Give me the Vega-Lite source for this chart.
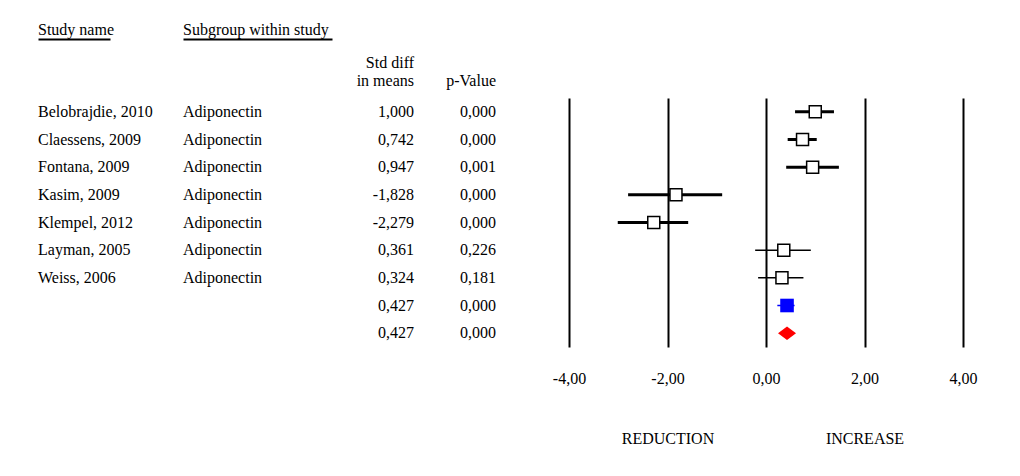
{
  "$schema": "https://vega.github.io/schema/vega-lite/v6.json",
  "padding": {"left": 37, "top": 21, "right": 5, "bottom": 5},
  "bounds": "flush",
  "spacing": 73,
  "config": {
    "view": {"stroke": null},
    "locale": {"number": {"decimal": ",", "thousands": ".", "grouping": [3], "currency": ["", ""], "minus": "-"}},
    "font": "Liberation Serif",
    "axis": {"labelFont": "Liberation Serif", "labelFontSize": 16, "labelColor": "black", "titleFont": "Liberation Serif"},
    "text": {"font": "Liberation Serif", "fontSize": 16, "color": "black"}
  },
  "data": {
    "values": [
      {"row": 1, "study": "Belobrajdie, 2010", "subgroup": "Adiponectin", "smd": 1.000, "p": 0.000, "lo": 0.59, "hi": 1.38, "kind": "study"},
      {"row": 2, "study": "Claessens, 2009", "subgroup": "Adiponectin", "smd": 0.742, "p": 0.000, "lo": 0.44, "hi": 1.03, "kind": "study"},
      {"row": 3, "study": "Fontana, 2009", "subgroup": "Adiponectin", "smd": 0.947, "p": 0.001, "lo": 0.41, "hi": 1.48, "kind": "study"},
      {"row": 4, "study": "Kasim, 2009", "subgroup": "Adiponectin", "smd": -1.828, "p": 0.000, "lo": -2.80, "hi": -0.89, "kind": "study"},
      {"row": 5, "study": "Klempel, 2012", "subgroup": "Adiponectin", "smd": -2.279, "p": 0.000, "lo": -3.01, "hi": -1.58, "kind": "study"},
      {"row": 6, "study": "Layman, 2005", "subgroup": "Adiponectin", "smd": 0.361, "p": 0.226, "lo": -0.22, "hi": 0.91, "kind": "study"},
      {"row": 7, "study": "Weiss, 2006", "subgroup": "Adiponectin", "smd": 0.324, "p": 0.181, "lo": -0.16, "hi": 0.76, "kind": "study"},
      {"row": 8, "study": "", "subgroup": "", "smd": 0.427, "p": 0.000, "lo": 0.23, "hi": 0.58, "kind": "fixed"},
      {"row": 9, "study": "", "subgroup": "", "smd": 0.427, "p": 0.000, "lo": 0.25, "hi": 0.62, "kind": "random"}
    ]
  },
  "hconcat": [
    {
      "width": 72, "height": 249,
      "mark": {"type": "text", "align": "left", "baseline": "middle"},
      "encoding": {
        "x": {"datum": "Study name", "type": "nominal", "bandPosition": 0,
              "scale": {"type": "band", "paddingInner": 0, "paddingOuter": 0},
              "axis": {"orient": "top", "title": null, "ticks": false, "domain": true, "domainColor": "black", "domainWidth": 2, "offset": 59, "labelPadding": 5, "labelBaseline": "alphabetic", "labelAlign": "left", "labelAngle": 0, "labelOffset": -36, "labelLimit": 0}},
        "y": {"field": "row", "type": "ordinal", "axis": null, "scale": {"type": "point", "padding": 0.5}},
        "text": {"field": "study"}
      }
    },
    {
      "width": 149, "height": 249,
      "mark": {"type": "text", "align": "left", "baseline": "middle"},
      "encoding": {
        "x": {"datum": "Subgroup within study", "type": "nominal", "bandPosition": 0,
              "scale": {"type": "band", "paddingInner": 0, "paddingOuter": 0},
              "axis": {"orient": "top", "title": null, "ticks": false, "domain": true, "domainColor": "black", "domainWidth": 2, "offset": 59, "labelPadding": 5, "labelBaseline": "alphabetic", "labelAlign": "left", "labelAngle": 0, "labelOffset": -74.5, "labelLimit": 0}},
        "y": {"field": "row", "type": "ordinal", "axis": null, "scale": {"type": "point", "padding": 0.5}},
        "text": {"field": "subgroup"}
      }
    },
    {
      "width": 9, "height": 249,
      "mark": {"type": "text", "align": "right", "baseline": "middle"},
      "encoding": {
        "x": {"datum": "Std diff|in means", "type": "nominal", "bandPosition": 1,
              "scale": {"type": "band", "paddingInner": 0, "paddingOuter": 0},
              "axis": {"orient": "top", "title": null, "ticks": false, "domain": false, "labelPadding": 28, "labelBaseline": "bottom", "labelAlign": "right", "labelAngle": 0, "labelOffset": 4.5, "labelExpr": "split(datum.label, '|')", "labelLineHeight": 18, "labelLimit": 0}},
        "y": {"field": "row", "type": "ordinal", "axis": null, "scale": {"type": "point", "padding": 0.5}},
        "text": {"field": "smd", "type": "quantitative", "format": ".3f"}
      }
    },
    {
      "width": 9, "height": 249,
      "mark": {"type": "text", "align": "right", "baseline": "middle"},
      "encoding": {
        "x": {"datum": "p-Value", "type": "nominal", "bandPosition": 1,
              "scale": {"type": "band", "paddingInner": 0, "paddingOuter": 0},
              "axis": {"orient": "top", "title": null, "ticks": false, "domain": false, "labelPadding": 10, "labelBaseline": "bottom", "labelAlign": "right", "labelAngle": 0, "labelOffset": 4.5, "labelLimit": 0}},
        "y": {"field": "row", "type": "ordinal", "axis": null, "scale": {"type": "point", "padding": 0.5}},
        "text": {"field": "p", "type": "quantitative", "format": ".3f"}
      }
    },
    {
      "width": 394, "height": 249,
      "encoding": {
        "y": {"field": "row", "type": "ordinal", "axis": null, "scale": {"type": "point", "padding": 0.5}}
      },
      "layer": [
        {
          "transform": [{"filter": "datum.kind != 'random'"}],
          "mark": {"type": "rule"},
          "encoding": {
            "x": {"field": "lo", "type": "quantitative", "scale": {"domain": [-4, 4], "nice": false, "zero": false},
                  "axis": {"orient": "bottom", "title": null, "values": [-4, -2, 0, 2, 4], "format": ".2f", "grid": true, "gridColor": "black", "gridWidth": 2, "gridOpacity": 1, "domain": false, "ticks": false, "labelPadding": 31, "labelBaseline": "middle", "labelFlush": false, "labelOverlap": false}},
            "x2": {"field": "hi"},
            "color": {"condition": {"test": "datum.kind == 'fixed'", "value": "#0000ff"}, "value": "black"},
            "strokeWidth": {"condition": {"test": "datum.kind == 'study' && datum.p < 0.05", "value": 3}, "value": 1.5}
          }
        },
        {
          "transform": [{"filter": "datum.kind == 'study'"}],
          "mark": {"type": "point", "shape": "square", "filled": true, "fill": "white", "stroke": "black", "strokeWidth": 1.5, "size": 144, "opacity": 1},
          "encoding": {"x": {"field": "smd", "type": "quantitative", "axis": null}}
        },
        {
          "transform": [{"filter": "datum.kind == 'fixed'"}],
          "mark": {"type": "point", "shape": "square", "filled": true, "color": "#0000ff", "size": 185, "opacity": 1},
          "encoding": {"x": {"field": "smd", "type": "quantitative", "axis": null}}
        },
        {
          "transform": [{"filter": "datum.kind == 'random'"}],
          "mark": {"type": "point", "shape": "M-1,0L0,-0.75L1,0L0,0.75Z", "filled": true, "color": "#ff0000", "size": 324, "opacity": 1},
          "encoding": {"x": {"field": "smd", "type": "quantitative",
                             "axis": {"orient": "bottom", "title": null, "values": [-2, 2], "labelExpr": "datum.value < 0 ? 'REDUCTION' : 'INCREASE'", "grid": false, "domain": false, "ticks": false, "labelPadding": 91, "labelBaseline": "middle", "labelFlush": false}}}
        }
      ],
      "resolve": {"axis": {"x": "independent"}}
    }
  ]
}
